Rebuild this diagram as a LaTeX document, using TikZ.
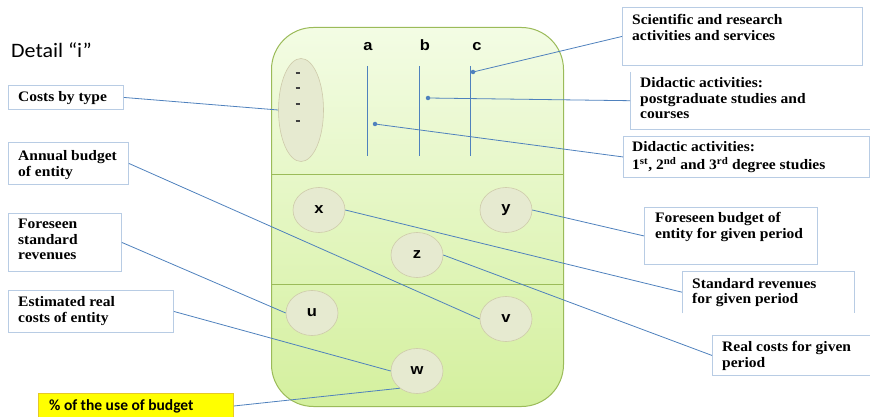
\documentclass[tikz,border=0pt]{standalone}
\usepackage{fontspec}
\setmainfont{Liberation Serif}
\newfontfamily\boxf[FakeStretch=1.07]{Liberation Serif}
\newfontfamily\arialf[FakeStretch=1.1]{Liberation Sans}
\newfontfamily\calibf{Carlito}
\newfontfamily\titlef[FakeStretch=1.07]{Carlito}
\usetikzlibrary{shapes.geometric}
\definecolor{lineblue}{RGB}{79,129,189}
\definecolor{boxedge}{RGB}{184,204,228}
\definecolor{paneledge}{RGB}{155,187,89}
\definecolor{paneltop}{RGB}{243,252,228}
\definecolor{panelbot}{RGB}{212,240,158}
\definecolor{ovalfill}{RGB}{230,234,208}
\definecolor{ovaledge}{RGB}{206,202,170}
\definecolor{yellowbox}{RGB}{255,255,0}
\definecolor{yellowedge}{RGB}{230,200,40}
\begin{document}
\begin{tikzpicture}[x=1pt,y=-1pt,
  lbox/.style 2 args={draw=boxedge, line width=0.9pt, fill=white, anchor=north west,
    inner sep=0, minimum width=#1, minimum height=#2},
  nbox/.style 2 args={draw=none, fill=white, anchor=north west,
    inner sep=0, minimum width=#1, minimum height=#2},
  btext/.style={font=\boxf\bfseries\fontsize{14.5}{15.5}\selectfont, align=left,
    anchor=north west, inner sep=0},
  oval/.style={ellipse, draw=ovaledge, fill=ovalfill, line width=0.6pt, inner sep=0,
    minimum width=52, minimum height=45, font=\arialf\bfseries\fontsize{15}{17}\selectfont},
  dotn/.style={circle, fill=lineblue, inner sep=0, minimum size=4.5},
  conn/.style={draw=lineblue, line width=0.8pt},
  letter/.style={font=\arialf\bfseries\fontsize{15}{17}\selectfont, inner sep=0, anchor=base}
]
\useasboundingbox (0,0) rectangle (870,417);
\clip (0,0) rectangle (870,417);

% panel
\node[draw=paneledge, line width=1pt, rounded corners=42, top color=paneltop,
  bottom color=panelbot, minimum width=292, minimum height=379, inner sep=0,
  anchor=north west] (panel) at (271,27) {};
\draw[paneledge, line width=0.9pt] (271,174) -- (563,174);
\draw[paneledge, line width=0.9pt] (271,284) -- (563,284);

% title
\node[font=\titlef\fontsize{20.5}{23}\selectfont, anchor=base west, inner sep=0] (title) at (11,58) {Detail “i”};

% costs-by-type oval
\node[ellipse, draw=ovaledge, fill=ovalfill, line width=0.6pt, inner sep=0,
  minimum width=45, minimum height=103] (ov) at (301,110) {};
\foreach \yy in {73,88,104,121}
  \draw[black!75, line width=1.6pt] (295.5,\yy) -- (299.5,\yy);

% a b c
\node[letter] (la) at (368,51) {a};
\node[letter] (lb) at (425,51) {b};
\node[letter] (lc) at (477,51) {c};
\coordinate (ta) at (367,66); \coordinate (ba) at (367,156);
\coordinate (tb) at (419,66); \coordinate (bb) at (419,156);
\coordinate (tc) at (470,66); \coordinate (bc) at (470,156);
\draw[conn] (ta) -- (ba);
\draw[conn] (tb) -- (bb);
\draw[conn] (tc) -- (bc);
\node[dotn] (da) at (375,124) {};
\node[dotn] (db) at (428,98) {};
\node[dotn] (dc) at (473,72) {};

% circles
\node[oval] (x) at (319,210) {x};
\node[oval] (y) at (506,210) {y};
\node[oval] (z) at (417,255) {z};
\node[oval] (u) at (312,313) {u};
\node[oval] (v) at (506,319) {v};
\node[oval] (w) at (417,371) {w};

% left boxes
\node[lbox={115}{24}] (cbt) at (8,85) {};
\node[btext] (cbtt) at (18,90.5) {\strut Costs by type};

\node[lbox={120}{42}] (abe) at (8,142) {};
\node[btext] (abet) at (18,149.5) {\strut Annual budget\\of entity};

\node[lbox={113}{58}] (fsr) at (8,213) {};
\node[btext] (fsrt) at (18,217.5) {\strut Foreseen\\standard\\revenues};

\node[lbox={165}{42}] (erc) at (8,290) {};
\node[btext] (erct) at (18,295.5) {\strut Estimated real\\costs of entity};

\node[draw=yellowedge, fill=yellowbox, line width=0.8pt, anchor=north west, inner sep=0,
  minimum width=195, minimum height=30] (pct) at (38,393) {};
\node[font=\calibf\bfseries\fontsize{15.5}{18}\selectfont, anchor=base west, inner sep=0]
  (pctt) at (49,410) {\% of the use of budget};

% right boxes
\node[lbox={240}{58}] (sci) at (622,7) {};
\node[btext] (scit) at (632,13.5) {\strut Scientific and research\\activities and services};

\node[nbox={250}{57}] (pg) at (630,72) {};
\draw[boxedge, line width=0.9pt] (pg.north west) -- (pg.south west) -- (pg.south east);
\node[btext] (pgt) at (640,76.5) {\strut Didactic activities:\\postgraduate studies and\\courses};

\node[lbox={246}{41}] (dd) at (623,136) {};
\node[btext] (ddt) at (632,140.5) {\strut Didactic activities:\\1\textsuperscript{st}, 2\textsuperscript{nd} and 3\textsuperscript{rd} degree studies};

\node[lbox={173}{57}] (fb) at (644,207) {};
\node[btext] (fbt) at (655,211.5) {\strut Foreseen budget of\\entity for given period};

\node[nbox={172}{42}] (sr) at (682,271) {};
\draw[boxedge, line width=0.9pt] (sr.south west) -- (sr.north west) -- (sr.north east) -- (sr.south east);
\node[btext] (srt) at (692,277) {\strut Standard revenues\\for given period};

\node[lbox={170}{40}] (rc) at (712,335) {};
\node[btext] (rct) at (722,340.5) {\strut Real costs for given\\period};

% connectors
\draw[conn] (cbt.east) -- (ov.west);
\draw[conn] (sci.west) -- (dc.center);
\draw[conn] (pg.west) -- (db.center);
\draw[conn] (dd.west) -- (da.center);
\draw[conn] (abe.east) -- (v.west);
\draw[conn] (fsr.east) -- (u.west);
\draw[conn] (erc.east) -- (w.west);
\draw[conn] ([yshift=-13]pct.north east) -- (w.225);
\draw[conn] (x.east) -- (sr.west);
\draw[conn] (y.east) -- (fb.west);
\draw[conn] (z.east) -- (rc.west);
\end{tikzpicture}
\end{document}
